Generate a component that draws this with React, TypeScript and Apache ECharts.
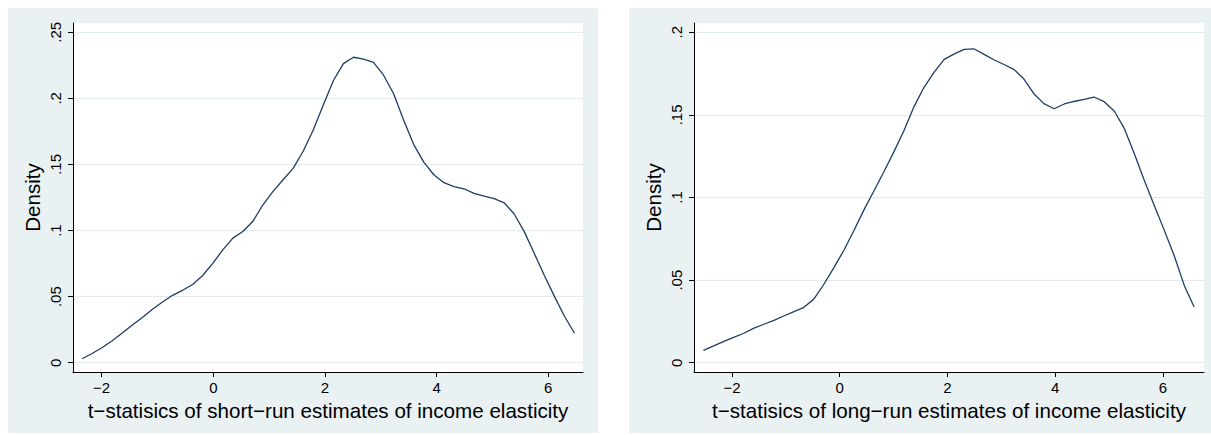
import React, { useEffect, useRef } from "react";
import * as echarts from "echarts";

// Short-run kernel density (t-statistics)
const shortX = [-2.35, -2.17, -1.99, -1.81, -1.63, -1.45, -1.27, -1.09, -0.91, -0.73, -0.55, -0.37, -0.19, -0.01, 0.17, 0.35, 0.53, 0.71, 0.89, 1.07, 1.25, 1.43, 1.61, 1.79, 1.97, 2.15, 2.33, 2.51, 2.69, 2.87, 3.05, 3.23, 3.41, 3.59, 3.77, 3.95, 4.13, 4.31, 4.49, 4.67, 4.85, 5.03, 5.21, 5.39, 5.57, 5.75, 5.93, 6.11, 6.29, 6.47];
const shortY = [0.003, 0.007, 0.0115, 0.0167, 0.0225, 0.0285, 0.0343, 0.0405, 0.046, 0.051, 0.0548, 0.0592, 0.066, 0.0752, 0.0854, 0.0943, 0.0993, 0.107, 0.1195, 0.1296, 0.1384, 0.147, 0.16, 0.176, 0.195, 0.2133, 0.2263, 0.2311, 0.2296, 0.2272, 0.2175, 0.2035, 0.1835, 0.165, 0.1518, 0.1422, 0.1362, 0.1333, 0.1316, 0.1281, 0.1261, 0.1241, 0.121, 0.1125, 0.0992, 0.0826, 0.066, 0.0502, 0.0352, 0.0223];

// Long-run kernel density (t-statistics)
const longX = [-2.53, -2.34, -2.16, -1.97, -1.79, -1.6, -1.41, -1.23, -1.04, -0.86, -0.67, -0.48, -0.3, -0.11, 0.08, 0.26, 0.45, 0.63, 0.82, 1.01, 1.19, 1.38, 1.56, 1.75, 1.94, 2.12, 2.31, 2.49, 2.68, 2.87, 3.05, 3.24, 3.42, 3.61, 3.79, 3.98, 4.17, 4.35, 4.54, 4.72, 4.91, 5.1, 5.28, 5.47, 5.65, 5.84, 6.03, 6.21, 6.4, 6.58];
const longY = [0.0075, 0.0102, 0.0128, 0.0153, 0.0177, 0.0208, 0.0233, 0.0255, 0.0283, 0.0308, 0.0334, 0.0385, 0.0472, 0.0574, 0.0682, 0.0797, 0.0925, 0.1036, 0.1156, 0.1279, 0.1402, 0.155, 0.1664, 0.1757, 0.1836, 0.1868, 0.1896, 0.19, 0.1866, 0.1832, 0.1805, 0.1774, 0.1717, 0.1626, 0.1568, 0.1537, 0.1566, 0.1581, 0.1594, 0.1608, 0.158, 0.1522, 0.142, 0.1265, 0.1108, 0.0952, 0.0798, 0.0648, 0.0465, 0.0337];

const yTicksShort = [0, 0.05, 0.1, 0.15, 0.2, 0.25];
const yTicksLong = [0, 0.05, 0.1, 0.15, 0.2];
const xTicks = [-2, 0, 2, 4, 6];

const yTitle = "Density";
const xTitleShort = "t\u2212statisics of short\u2212run estimates of income elasticity";
const xTitleLong = "t\u2212statisics of long\u2212run estimates of income elasticity";

const FONT = "'Liberation Sans', Arial, Helvetica, sans-serif";
const LINE = "#1b3d68";
const BG = "#eaf1f3";
const GRIDLINE = "#e3ebee";

const fmtY = (v: number) => {
  if (Math.abs(v) < 1e-9) return "0";
  const s = (Math.round(v * 1000) / 1000).toString();
  return s.replace(/^0\./, ".");
};
const fmtX = (v: number) => (v < 0 ? "\u2212" + Math.abs(v) : String(v));

function xAxisCfg(gridIndex: number, min: number, max: number, name: string) {
  return {
    type: "value",
    gridIndex,
    min,
    max,
    name,
    nameLocation: "middle",
    nameGap: 22,
    nameTextStyle: { fontFamily: FONT, fontSize: 20.6, color: "#000" },
    axisLine: { show: true, onZero: false, lineStyle: { color: "#000", width: 1 } },
    axisTick: { show: true, length: 5, customValues: xTicks, lineStyle: { color: "#000", width: 1 } },
    axisLabel: { customValues: xTicks, formatter: fmtX, margin: 8, fontFamily: FONT, fontSize: 15, color: "#000" },
    splitLine: { show: false },
  };
}

function yAxisCfg(gridIndex: number, min: number, max: number, ticks: number[]) {
  return {
    type: "value",
    gridIndex,
    min,
    max,
    name: yTitle,
    nameLocation: "middle",
    nameRotate: 90,
    nameGap: 30,
    nameTextStyle: { fontFamily: FONT, fontSize: 20.6, color: "#000" },
    axisLine: { show: true, onZero: false, lineStyle: { color: "#000", width: 1 } },
    axisTick: { show: true, length: 5, customValues: ticks, lineStyle: { color: "#000", width: 1 } },
    axisLabel: { customValues: ticks, formatter: fmtY, rotate: 90, margin: 10, fontFamily: FONT, fontSize: 15, color: "#000" },
    splitLine: { show: true, lineStyle: { color: GRIDLINE, width: 1 } },
  };
}

export default function App() {
  const ref = useRef<HTMLDivElement>(null);
  useEffect(() => {
    if (!ref.current) return;
    const chart = echarts.init(ref.current, undefined, { renderer: "svg" });
    chart.setOption({
      animation: false,
      grid: [
        { left: 73, top: 23, width: 510, height: 349, show: true, backgroundColor: "#fff", borderWidth: 0 },
        { left: 694, top: 23, width: 510, height: 349, show: true, backgroundColor: "#fff", borderWidth: 0 },
      ],
      xAxis: [
        xAxisCfg(0, -2.513, 6.622, xTitleShort),
        xAxisCfg(1, -2.705, 6.763, xTitleLong),
      ],
      yAxis: [
        yAxisCfg(0, -0.007, 0.257, yTicksShort),
        yAxisCfg(1, -0.0056, 0.2056, yTicksLong),
      ],
      series: [
        {
          type: "line",
          xAxisIndex: 0,
          yAxisIndex: 0,
          data: shortX.map((x, i) => [x, shortY[i]]),
          showSymbol: false,
          symbol: "none",
          lineStyle: { color: LINE, width: 1.3 },
        },
        {
          type: "line",
          xAxisIndex: 1,
          yAxisIndex: 1,
          data: longX.map((x, i) => [x, longY[i]]),
          showSymbol: false,
          symbol: "none",
          lineStyle: { color: LINE, width: 1.3 },
        },
      ],
    });
    return () => chart.dispose();
  }, []);

  return (
    <div style={{ position: "fixed", left: 0, top: 0, width: 1211, height: 435, background: "#fff" }}>
      <div style={{ position: "absolute", left: 8, top: 8, width: 590, height: 425, background: BG }} />
      <div style={{ position: "absolute", left: 629, top: 8, width: 582, height: 425, background: BG }} />
      <div ref={ref} style={{ position: "absolute", left: 0, top: 0, width: 1211, height: 435 }} />
    </div>
  );
}
